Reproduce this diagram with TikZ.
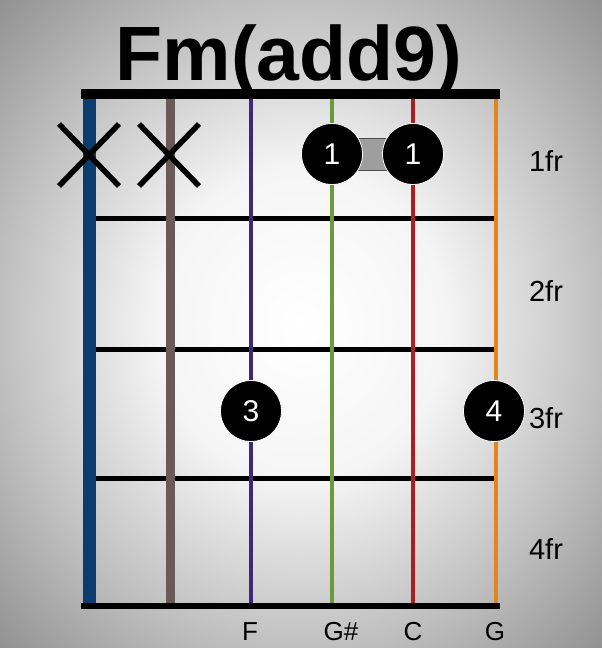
\documentclass[tikz,border=0pt]{standalone}
\usepackage{fontspec}
\setmainfont{Liberation Sans}
\usetikzlibrary{calc}
\pgfdeclareradialshading{bgshade}{\pgfpoint{0bp}{0bp}}{%
  color(0bp)=(white); color(12bp)=(white!96!black); color(25bp)=(white!75!black);
  color(36bp)=(white!56!black); color(50bp)=(white!56!black)}
\definecolor{sBlue}{HTML}{0B3C6E}
\definecolor{sBrown}{HTML}{6A5A57}
\definecolor{sPurple}{HTML}{3B2A75}
\definecolor{sGreen}{HTML}{6A9A3C}
\definecolor{sRed}{HTML}{A82020}
\definecolor{sOrange}{HTML}{E0861C}
\tikzset{
  fretline/.style={line width=5pt, black},
  barline/.style={line width=10pt, black},
  finger/.style={circle, fill=black, draw=white, line width=0.8pt, minimum size=61pt, inner sep=0pt,
                 text=white, font=\fontsize{30}{30}\selectfont},
  mutemark/.style={line width=5.5pt, black},
  frlabel/.style={font=\fontsize{29}{29}\selectfont, text=black},
  notelabel/.style={font=\fontsize{26}{26}\selectfont, text=black, anchor=base},
  barre/.style={fill=white!62!black, draw=black!70, line width=0.6pt}
}
\begin{document}
\begin{tikzpicture}[x=1pt,y=-1pt]
\useasboundingbox (0,0) rectangle (602,648);
\fill[shading=bgshade] (0,0) rectangle (602,648);
% title
\node[font=\fontsize{77}{77}\selectfont\bfseries, anchor=base] (title) at (289,80) {Fm(add9)};
% frets
\foreach \y/\n in {218/f1,349/f2,478/f3}{
  \coordinate (\n L) at (89,\y); \coordinate (\n R) at (496,\y);
  \draw[fretline] (\n L) -- (\n R);
}
% strings
\coordinate (s1t) at (89,96);  \coordinate (s1b) at (89,606);
\coordinate (s2t) at (170,96); \coordinate (s2b) at (170,606);
\coordinate (s3t) at (251,96); \coordinate (s3b) at (251,606);
\coordinate (s4t) at (332,96); \coordinate (s4b) at (332,606);
\coordinate (s5t) at (413,96); \coordinate (s5b) at (413,606);
\coordinate (s6t) at (496,96); \coordinate (s6b) at (496,606);
\draw[line width=13pt, sBlue] (s1t) -- (s1b);
\draw[line width=9pt, sBrown] (s2t) -- (s2b);
\draw[line width=3.5pt, sPurple] (s3t) -- (s3b);
\draw[line width=3.5pt, sGreen] (s4t) -- (s4b);
\draw[line width=3.5pt, sRed] (s5t) -- (s5b);
\draw[line width=3.5pt, sOrange] (s6t) -- (s6b);
% nut and bottom
\coordinate (nutL) at (81,94); \coordinate (nutR) at (500,94);
\draw[barline] (nutL) -- (nutR);
\coordinate (botL) at (81,606); \coordinate (botR) at (500,606);
\draw[line width=6pt] (botL) -- (botR);
% mutes
\coordinate (m1) at (89,155); \coordinate (m2) at (169,155);
\foreach \m in {m1,m2}{
  \draw[mutemark] ($(\m)+(-30,-31)$) -- ($(\m)+(30,31)$);
  \draw[mutemark] ($(\m)+(-30,31)$) -- ($(\m)+(30,-31)$);
}
% barre
\filldraw[barre] (332,138) rectangle (413,170);
% fingers
\node[finger] (d1) at (332,154) {1};
\node[finger] (d2) at (413,154) {1};
\node[finger] (d3) at (251,411) {3};
\node[finger] (d4) at (494,411) {4};
% fret labels
\node[frlabel] (fr1) at (546,161) {1fr};
\node[frlabel] (fr2) at (546,291) {2fr};
\node[frlabel] (fr3) at (546,418) {3fr};
\node[frlabel] (fr4) at (546,549) {4fr};
% note labels
\node[notelabel] (nF) at (250,640) {F};
\node[notelabel] (nGs) at (341,640) {G\#};
\node[notelabel] (nC) at (413,640) {C};
\node[notelabel] (nG) at (495,640) {G};
\end{tikzpicture}
\end{document}
